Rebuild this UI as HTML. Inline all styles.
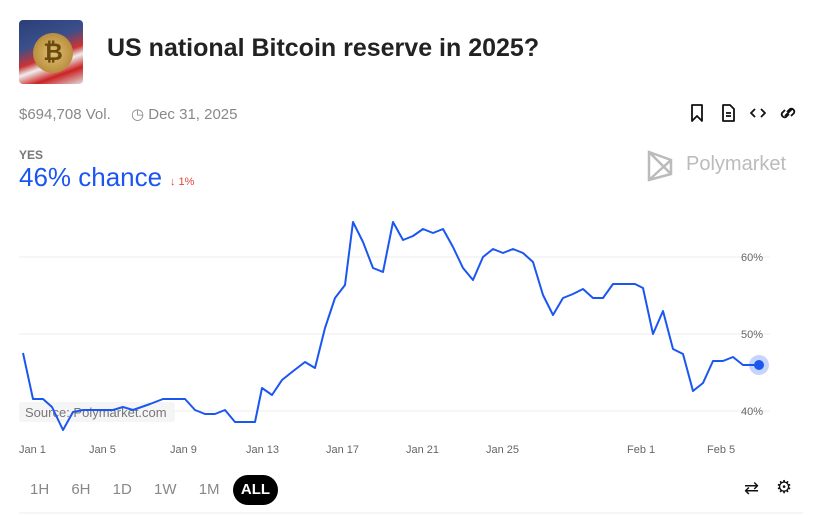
<!DOCTYPE html>
<html><head><style>
body{margin:0;width:823px;height:515px;background:#fff;font-family:"Liberation Sans",sans-serif;overflow:hidden;position:relative}
.a{position:absolute}
</style></head><body>
<div class="a" style="left:19px;top:20px;width:64px;height:64px;border-radius:4px;background:linear-gradient(160deg,#2a3f7a 0%,#3b4f8a 35%,#c33 55%,#eee 65%,#c22 80%,#ddd 100%)"></div>
<div class="a" style="left:33px;top:33px;width:40px;height:40px;border-radius:50%;background:radial-gradient(circle,#e0c070,#a87a2a);font-weight:bold;color:#6a4a10;font-size:24px;text-align:center;line-height:40px">₿</div>
<div class="a" style="left:107px;top:34px;font-size:25px;font-weight:bold;color:#222">US national Bitcoin reserve in 2025?</div>
<div class="a" style="left:19px;top:106px;font-size:15px;color:#888">$694,708 Vol.</div>
<div class="a" style="left:131px;top:105px;font-size:15px;color:#888">◷ Dec 31, 2025</div>
<svg class="a" style="left:688px;top:103px" width="112" height="20" fill="none" stroke="#111" stroke-width="1.8" stroke-linejoin="round">
<path d="M4 2 H14 V18 L9 13 L4 18 Z"/>
<path d="M35 2 H42 L46 6 V18 H35 Z M38 10 H43 M38 13 H43"/>
<path d="M67 6 L63 10 L67 14 M73 6 L77 10 L73 14"/>
<path d="M97 13 L104 6 M99 9 L102 6 A3 3 0 0 1 106 10 L103 13 M101 11 L98 14 A3 3 0 0 1 94 10 L97 7"/>
</svg>
<div class="a" style="left:19px;top:148px;font-size:12px;color:#777;font-weight:bold">YES</div>
<div class="a" style="left:19px;top:162px;font-size:26px;color:#1a56f0">46% chance</div>
<div class="a" style="left:170px;top:176px;font-size:11px;color:#e0473e">↓ 1%</div>
<svg class="a" style="left:646px;top:148px" width="30" height="34"><path d="M3 4 L25 12 L25 26 L3 32 Z M3 4 L25 26 M3 32 L25 12" fill="none" stroke="#bbb" stroke-width="2.5"/></svg>
<div class="a" style="left:686px;top:153px;font-size:20px;color:#bbb">Polymarket</div>
<svg class="a" style="left:0;top:0" width="823" height="515">
<g stroke="#eee" stroke-width="1"><line x1="19" y1="257" x2="770" y2="257"/><line x1="19" y1="334" x2="770" y2="334"/><line x1="19" y1="411" x2="770" y2="411"/></g>
<g font-size="11" fill="#666" font-family="Liberation Sans"><text x="741" y="261">60%</text><text x="741" y="338">50%</text><text x="741" y="415">40%</text>
<text x="19" y="453">Jan 1</text><text x="89" y="453">Jan 5</text><text x="170" y="453">Jan 9</text><text x="246" y="453">Jan 13</text><text x="326" y="453">Jan 17</text><text x="406" y="453">Jan 21</text><text x="486" y="453">Jan 25</text><text x="627" y="453">Feb 1</text><text x="707" y="453">Feb 5</text></g>
<rect x="19" y="402" width="156" height="20" rx="3" fill="#f2f2f2" opacity="0.8"/>
<text x="25" y="417" font-size="13" fill="#777" font-family="Liberation Sans">Source: Polymarket.com</text>
<polyline fill="none" stroke="#1a56f0" stroke-width="2" stroke-linejoin="round" points="23,353 33,399 43,399 52,407 63,430 73,412 83,410 113,410 123,407 133,410 150,404 163,399 185,399 195,410 205,414 215,414 225,410 235,422 255,422 262,388 272,395 282,380 292,372 305,362 315,368 325,328 335,298 345,285 353,222 363,242 373,268 383,272 393,222 403,240 413,236 423,229 433,233 443,229 453,247 463,268 473,280 483,257 493,249 503,253 513,249 523,253 533,262 543,295 553,315 563,298 573,294 583,289 593,298 603,298 613,284 635,284 643,288 653,334 663,311 673,349 683,354 693,391 703,383 713,361 723,361 733,357 743,365 759,365"/>
<circle cx="759" cy="365" r="10" fill="#1a56f0" opacity="0.25"/><circle cx="759" cy="365" r="5" fill="#1a56f0"/>
<line x1="19" y1="513" x2="803" y2="513" stroke="#eee"/>
</svg>
<div class="a" style="left:30px;top:481px;font-size:15px;color:#888;word-spacing:18px">1H 6H 1D 1W 1M</div>
<div class="a" style="left:233px;top:475px;width:45px;height:30px;border-radius:15px;background:#000;color:#fff;font-size:15px;font-weight:bold;text-align:center;line-height:30px">ALL</div>
<div class="a" style="left:744px;top:478px;font-size:18px;color:#111">⇄</div>
<div class="a" style="left:776px;top:477px;font-size:18px;color:#111">⚙</div>
</body></html>
